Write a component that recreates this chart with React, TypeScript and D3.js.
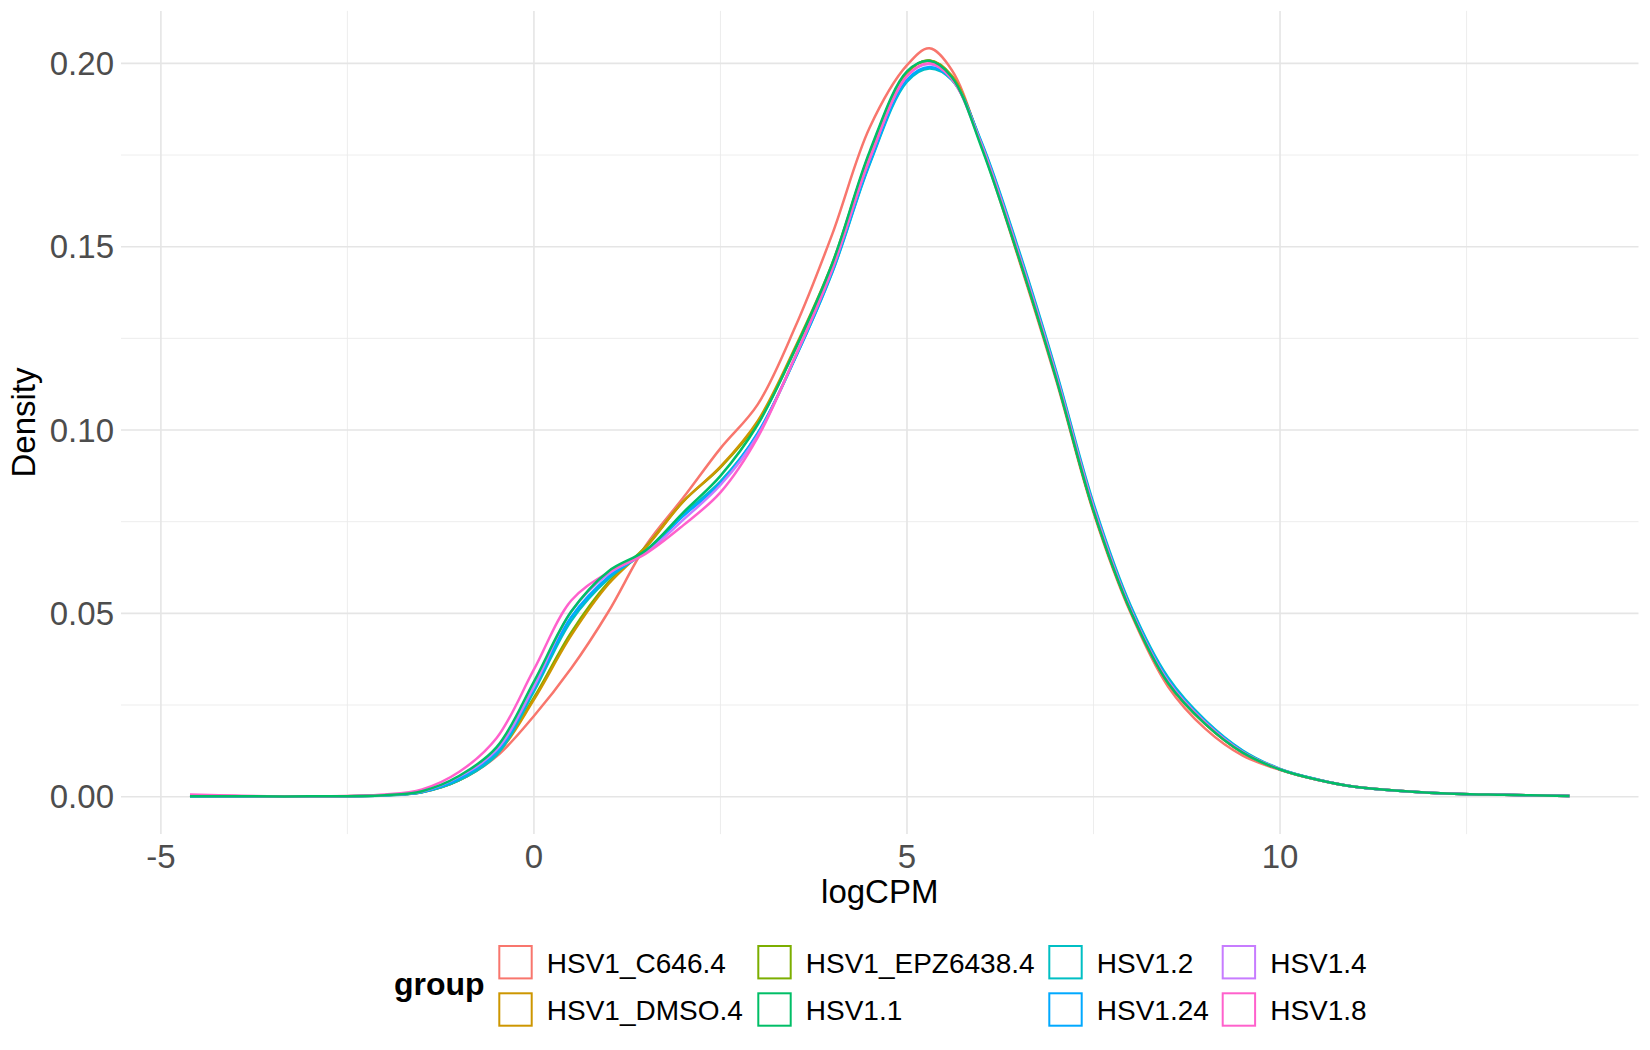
import React from 'react';
import * as d3 from 'd3';

// logCPM grid shared by all density curves
const logCPM = [-4.61, -4, -3, -2, -1.5, -1, -0.5, 0, 0.5, 1, 1.5, 2, 2.5, 3, 3.5, 4, 4.5, 5, 5.3, 5.6, 6, 6.5, 7, 7.5, 8, 8.5, 9, 9.5, 10, 10.5, 11, 12, 13, 13.88];

const densC646 = [0.0003, 0.0001, 0.0001, 0.0004, 0.0012, 0.0045, 0.011, 0.022, 0.035, 0.0505, 0.0685, 0.0815, 0.095, 0.107, 0.128, 0.1535, 0.1825, 0.1995, 0.2041, 0.1982, 0.1775, 0.1465, 0.1135, 0.0775, 0.05, 0.030, 0.0185, 0.0112, 0.0073, 0.0046, 0.0027, 0.0011, 0.0005, 0.0002];
const densDMSO = [0.0001, 0.0001, 0.0001, 0.0004, 0.0013, 0.0045, 0.0115, 0.0265, 0.044, 0.058, 0.068, 0.0805, 0.090, 0.1025, 0.1225, 0.1455, 0.1755, 0.1975, 0.2008, 0.1966, 0.1778, 0.147, 0.1142, 0.078, 0.0505, 0.031, 0.0198, 0.012, 0.0074, 0.0046, 0.0027, 0.0011, 0.0005, 0.0002];
const densEPZ = [0.0001, 0.0001, 0.0001, 0.0004, 0.0013, 0.0046, 0.0118, 0.027, 0.0448, 0.0585, 0.0682, 0.0805, 0.0898, 0.102, 0.122, 0.145, 0.1755, 0.1975, 0.2008, 0.1966, 0.1778, 0.147, 0.1142, 0.078, 0.0505, 0.031, 0.0198, 0.012, 0.0074, 0.0046, 0.0027, 0.0011, 0.0005, 0.0002];
const dens1_1 = [0.0001, 0.0001, 0.0001, 0.0004, 0.0015, 0.0057, 0.0135, 0.0314, 0.0505, 0.0615, 0.0672, 0.0775, 0.0875, 0.1015, 0.122, 0.1455, 0.176, 0.1978, 0.2007, 0.1963, 0.177, 0.147, 0.114, 0.078, 0.0505, 0.031, 0.0198, 0.012, 0.0074, 0.0046, 0.0027, 0.0011, 0.0005, 0.0002];
const dens1_2 = [0.0001, 0.0001, 0.0001, 0.0003, 0.0012, 0.0045, 0.0114, 0.0287, 0.048, 0.0595, 0.067, 0.077, 0.086, 0.099, 0.1195, 0.143, 0.1725, 0.195, 0.1986, 0.1955, 0.1785, 0.149, 0.116, 0.080, 0.052, 0.0325, 0.0208, 0.0126, 0.0076, 0.0047, 0.0027, 0.0011, 0.0005, 0.0002];
const dens1_24 = [0.0001, 0.0001, 0.0001, 0.0004, 0.0013, 0.005, 0.0122, 0.0296, 0.049, 0.060, 0.0668, 0.0765, 0.0855, 0.0992, 0.1195, 0.1432, 0.1728, 0.1955, 0.199, 0.1957, 0.1782, 0.1485, 0.1155, 0.0795, 0.0515, 0.032, 0.0205, 0.0124, 0.0075, 0.0047, 0.0027, 0.0011, 0.0005, 0.0002];
const dens1_4 = [0.0002, 0.0001, 0.0001, 0.0004, 0.0014, 0.0055, 0.0128, 0.030, 0.0505, 0.0608, 0.0665, 0.0755, 0.085, 0.0985, 0.120, 0.144, 0.174, 0.1965, 0.1998, 0.1958, 0.1778, 0.148, 0.115, 0.079, 0.051, 0.0315, 0.0202, 0.0122, 0.0075, 0.0046, 0.0027, 0.0011, 0.0005, 0.0002];
const dens1_8 = [0.0006, 0.0003, 0.0001, 0.0006, 0.002, 0.0068, 0.016, 0.0347, 0.0535, 0.0612, 0.0663, 0.074, 0.083, 0.098, 0.120, 0.144, 0.174, 0.1965, 0.2, 0.1958, 0.1775, 0.1475, 0.1145, 0.0785, 0.0508, 0.0312, 0.02, 0.0121, 0.0074, 0.0046, 0.0027, 0.0011, 0.0005, 0.0002];

const groups = ['HSV1_C646.4', 'HSV1_DMSO.4', 'HSV1_EPZ6438.4', 'HSV1.1', 'HSV1.2', 'HSV1.24', 'HSV1.4', 'HSV1.8'];
const groupValues = [densC646, densDMSO, densEPZ, dens1_1, dens1_2, dens1_24, dens1_4, dens1_8];
const groupColors = ['#F8766D', '#CD9600', '#7CAE00', '#00BE67', '#00BFC4', '#00A9FF', '#C77CFF', '#FF61CC'];
// green sits on top of the pile in the picture
const drawOrder = [0, 2, 1, 4, 5, 6, 7, 3];

const xTicks = [-5, 0, 5, 10];
const xMinor = [-2.5, 2.5, 7.5, 12.5];
const yTicks = [0, 0.05, 0.1, 0.15, 0.2];
const yMinor = [0.025, 0.075, 0.125, 0.175];

const FONT = '"Liberation Sans", Arial, Helvetica, sans-serif';

export default function App() {
  const width = 1650;
  const height = 1050;
  const panel = { left: 121, right: 1638.5, top: 10.9, bottom: 834.1 };

  const xExt = d3.extent(logCPM) as [number, number];
  const xPad = (xExt[1] - xExt[0]) * 0.05;
  const yMax = d3.max(groupValues.flat()) as number;
  const yPad = yMax * 0.05;

  const x = d3.scaleLinear().domain([xExt[0] - xPad, xExt[1] + xPad]).range([panel.left, panel.right]);
  const y = d3.scaleLinear().domain([-yPad, yMax + yPad]).range([panel.bottom, panel.top]);

  const line = d3.line<number>()
    .x((_, i) => x(logCPM[i]))
    .y(d => y(d))
    .curve(d3.curveCatmullRom.alpha(0.5));

  // legend: 2 rows, filled by column
  const colX = [498.3, 757.3, 1048.3, 1221.7];
  const rowY = [945, 992.3];
  const keySize = 34.4;

  return (
    <svg width={width} height={height} style={{ position: 'absolute', left: 0, top: 0, background: '#fff' }} fontFamily={FONT}>
      {/* minor grid */}
      {yMinor.map(v => (
        <line key={'ym' + v} x1={panel.left} x2={panel.right} y1={y(v)} y2={y(v)} stroke="#EBEBEB" strokeWidth={0.9} />
      ))}
      {xMinor.map(v => (
        <line key={'xm' + v} x1={x(v)} x2={x(v)} y1={panel.top} y2={panel.bottom} stroke="#EBEBEB" strokeWidth={0.9} />
      ))}
      {/* major grid */}
      {yTicks.map(v => (
        <line key={'yM' + v} x1={panel.left} x2={panel.right} y1={y(v)} y2={y(v)} stroke="#E5E5E5" strokeWidth={1.6} />
      ))}
      {xTicks.map(v => (
        <line key={'xM' + v} x1={x(v)} x2={x(v)} y1={panel.top} y2={panel.bottom} stroke="#E5E5E5" strokeWidth={1.6} />
      ))}

      {/* density curves */}
      {drawOrder.map(i => (
        <path key={groups[i]} d={line(groupValues[i]) || ''} fill="none" stroke={groupColors[i]} strokeWidth={2.5} strokeLinejoin="round" />
      ))}

      {/* axis tick labels */}
      {xTicks.map(v => (
        <text key={'xt' + v} x={x(v)} y={868} textAnchor="middle" fontSize={33} fill="#4D4D4D">{v}</text>
      ))}
      {yTicks.map(v => (
        <text key={'yt' + v} x={114} y={y(v) + 11.8} textAnchor="end" fontSize={33} fill="#4D4D4D">{d3.format('.2f')(v)}</text>
      ))}

      {/* axis titles */}
      <text x={(panel.left + panel.right) / 2} y={903} textAnchor="middle" fontSize={33} fill="#000">logCPM</text>
      <text transform={`translate(35,${(panel.top + panel.bottom) / 2}) rotate(-90)`} textAnchor="middle" fontSize={33} fill="#000">Density</text>

      {/* legend */}
      <text x={394} y={995} fontSize={32} fontWeight="bold" fill="#000">group</text>
      {groups.map((g, i) => {
        const col = Math.floor(i / 2);
        const row = i % 2;
        return (
          <g key={'lg' + g}>
            <rect x={colX[col] + 1} y={rowY[row] + 1} width={keySize - 2} height={keySize - 2} fill="none" stroke={groupColors[i]} strokeWidth={2} />
            <text x={colX[col] + 48.5} y={rowY[row] + 27.7} fontSize={28} fill="#000">{g}</text>
          </g>
        );
      })}
    </svg>
  );
}
